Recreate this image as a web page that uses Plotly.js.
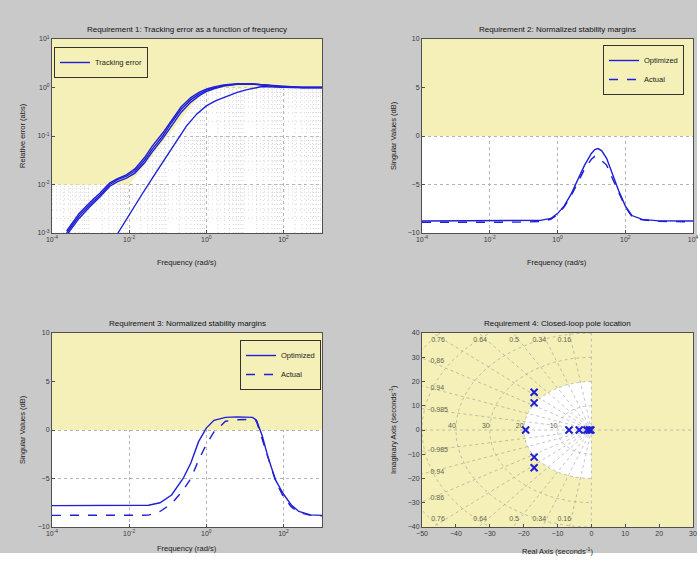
<!DOCTYPE html>
<html>
<head>
<meta charset="utf-8">
<script src="https://cdn.plot.ly/plotly-3.0.1.min.js"></script>
<style>html,body{margin:0;padding:0;background:#fff;}#chart{width:700px;height:561px;}</style>
</head>
<body>
<div id="chart"></div>
<script>
// ---------- Requirement 1: tracking error ----------
const req1FreqA = [2.4e-4, 5e-4, 1e-3, 1.74e-3, 3.16e-3, 5e-3, 8.5e-3, 0.0141, 0.0251, 0.0398, 0.0741, 0.126, 0.224, 0.398, 0.661, 1, 1.58, 2.82, 6.31, 15.8, 39.8, 100, 316, 1000];
const req1ErrA1 = [1e-3, 2.24e-3, 3.98e-3, 6.03e-3, 0.01, 0.0126, 0.0148, 0.019, 0.0316, 0.0537, 0.1, 0.19, 0.355, 0.562, 0.741, 0.871, 0.977, 1.096, 1.175, 1.175, 1.096, 1.023, 1, 1];
const req1ErrA2 = [1.1e-3, 2.5e-3, 4.4e-3, 6.6e-3, 0.0108, 0.0132, 0.0158, 0.021, 0.036, 0.062, 0.115, 0.215, 0.4, 0.62, 0.8, 0.92, 1.03, 1.13, 1.2, 1.19, 1.1, 1.03, 1.0, 1.0];
const req1ErrA3 = [0.9e-3, 2.0e-3, 3.6e-3, 5.5e-3, 0.0092, 0.0115, 0.0135, 0.0172, 0.028, 0.047, 0.088, 0.165, 0.31, 0.5, 0.68, 0.82, 0.94, 1.07, 1.16, 1.18, 1.12, 1.04, 1.0, 1.0];
const req1FreqB = [5.13e-3, 0.01, 0.0224, 0.05, 0.0933, 0.178, 0.302, 0.562, 1, 1.78, 3.31, 6.31, 10.7, 17.8, 28.2, 63, 158, 1000];
const req1ErrB  = [1e-3, 2.4e-3, 6.6e-3, 0.0178, 0.038, 0.083, 0.158, 0.282, 0.417, 0.537, 0.66, 0.794, 0.891, 0.977, 1.047, 1.02, 1, 1];
// maximum-error bound (region above it is shaded)
const req1BoundFreq = [1e-4, 1e-2, 1, 1e3];
const req1BoundErr  = [1e-2, 1e-2, 1, 1];

// ---------- Requirement 2: stability margins ----------
const req2Freq = [1e-4, 1e-3, 1e-2, 0.1, 0.316, 0.631, 1, 1.58, 2.51, 3.98, 6.31, 10, 12.6, 15.8, 20, 28.2, 39.8, 63.1, 100, 158, 316, 1000, 10000];
const req2Optimized = [-8.76, -8.76, -8.76, -8.75, -8.7, -8.5, -8.0, -7.2, -6.0, -4.5, -3.0, -1.8, -1.4, -1.3, -1.5, -2.3, -3.8, -5.6, -7.2, -8.2, -8.6, -8.75, -8.76];
const req2Actual    = [-8.9, -8.9, -8.9, -8.88, -8.8, -8.6, -8.1, -7.3, -6.2, -4.8, -3.4, -2.4, -2.1, -2.2, -2.5, -3.0, -4.2, -5.8, -7.3, -8.3, -8.65, -8.8, -8.85];
const req2Bound = 0;

// ---------- Requirement 3: stability margins ----------
const req3Freq = [1e-4, 1e-3, 0.01, 0.0316, 0.0631, 0.126, 0.251, 0.398, 0.631, 1, 1.58, 3.16, 6.31, 10, 15.8, 20, 28.2, 39.8, 63.1, 100, 158, 251, 501, 1000];
const req3Optimized = [-7.8, -7.8, -7.8, -7.75, -7.5, -6.7, -5.0, -3.4, -1.2, 0.2, 1.0, 1.3, 1.35, 1.35, 1.3, 1.0, -0.6, -2.8, -5.2, -6.6, -7.7, -8.4, -8.75, -8.8];
const req3Actual    = [-8.8, -8.8, -8.8, -8.78, -8.4, -7.6, -6.2, -5.0, -3.1, -1.5, -0.2, 0.9, 1.05, 1.1, 1.1, 0.9, -0.9, -2.9, -5.3, -6.9, -7.9, -8.5, -8.8, -8.85];
const req3Bound = 0;

// ---------- Requirement 4: closed-loop poles ----------
const poleReal = [-19.4, -16.9, -16.9, -16.9, -16.9, -6.6, -3.6, -1.3, -0.6, -0.15];
const poleImag = [0, 15.6, 11.2, -11.2, -15.6, 0, 0, 0, 0, 0];
const req4MaxFreq = 20;
const gridDamping = [0.16, 0.34, 0.5, 0.64, 0.76, 0.86, 0.94, 0.985];
const gridDampingTop = [0.16, 0.34, 0.5, 0.64, 0.76];
const gridDampingSide = [0.86, 0.94, 0.985];
const gridNatFreq = [10, 20, 30, 40, 50, 60];
const gridNatFreqLabels = [10, 20, 30, 40];

const logTicks1 = [1e-4, 1e-2, 1, 100];
const logTickText1 = ['10<sup>-4</sup>', '10<sup>-2</sup>', '10<sup>0</sup>', '10<sup>2</sup>'];
const logTicksY1 = [1e-3, 1e-2, 1e-1, 1, 10];
const logTickTextY1 = ['10<sup>-3</sup>', '10<sup>-2</sup>', '10<sup>-1</sup>', '10<sup>0</sup>', '10<sup>1</sup>'];
const logTicks2 = [1e-4, 1e-2, 1, 100, 1e4];
const logTickText2 = ['10<sup>-4</sup>', '10<sup>-2</sup>', '10<sup>0</sup>', '10<sup>2</sup>', '10<sup>4</sup>'];

// ---------- styling ----------
const BLUE = '#1f1fd6';
const YELLOW = '#f4f0b8';
const FIGGRAY = '#c9c9c9';
const AXCOL = '#505050';
const GRIDCOL = '#b4b4b4';
const FONT = 'Liberation Sans, Arial, sans-serif';

const traces = [];
function fillPoly(xs, ys, xa, ya) {
  traces.push({x: xs, y: ys, xaxis: xa, yaxis: ya, mode: 'lines', fill: 'toself', fillcolor: YELLOW,
    line: {width: 0, color: YELLOW}, hoverinfo: 'skip', showlegend: false});
}

// Req 1 minor log grid (drawn first, hidden under the shaded region)
const mgx = [], mgy = [];
for (let k = -4; k < 3; k++) for (let m = 2; m <= 9; m++) {
  const v = m * Math.pow(10, k);
  mgx.push(v, v, null); mgy.push(1e-3, 10, null);
}
for (let k = -3; k < 1; k++) for (let m = 2; m <= 9; m++) {
  const v = m * Math.pow(10, k);
  mgx.push(1e-4, 1e3, null); mgy.push(v, v, null);
}
traces.push({x: mgx, y: mgy, xaxis: 'x', yaxis: 'y', mode: 'lines',
  line: {color: '#cccccc', width: 0.8, dash: '1px,3px'}, hoverinfo: 'skip', showlegend: false});

// Req 1 shaded region
fillPoly(req1BoundFreq.concat([1e3, 1e-4]), req1BoundErr.concat([10, 10]), 'x', 'y');
[req1ErrA1, req1ErrA2, req1ErrA3].forEach((ys, i) => {
  traces.push({x: req1FreqA, y: ys, xaxis: 'x', yaxis: 'y', mode: 'lines',
    line: {color: BLUE, width: 1.4}, name: 'Tracking error', legend: 'legend',
    showlegend: i === 0});
});
traces.push({x: req1FreqB, y: req1ErrB, xaxis: 'x', yaxis: 'y', mode: 'lines',
  line: {color: BLUE, width: 1.4}, name: 'Tracking error', showlegend: false});

// Req 2
fillPoly([1e-4, 1e4, 1e4, 1e-4], [req2Bound, req2Bound, 10, 10], 'x2', 'y2');
traces.push({x: req2Freq, y: req2Optimized, xaxis: 'x2', yaxis: 'y2', mode: 'lines',
  line: {color: BLUE, width: 1.4}, name: 'Optimized', legend: 'legend2'});
traces.push({x: req2Freq, y: req2Actual, xaxis: 'x2', yaxis: 'y2', mode: 'lines',
  line: {color: BLUE, width: 1.4, dash: 'dash'}, name: 'Actual', legend: 'legend2'});

// Req 3
fillPoly([1e-4, 1e3, 1e3, 1e-4], [req3Bound, req3Bound, 10, 10], 'x3', 'y3');
traces.push({x: req3Freq, y: req3Optimized, xaxis: 'x3', yaxis: 'y3', mode: 'lines',
  line: {color: BLUE, width: 1.4}, name: 'Optimized', legend: 'legend3'});
traces.push({x: req3Freq, y: req3Actual, xaxis: 'x3', yaxis: 'y3', mode: 'lines',
  line: {color: BLUE, width: 1.4, dash: 'dash'}, name: 'Actual', legend: 'legend3'});

// Req 4 shaded region: outside the left half-disc of radius req4MaxFreq
(function () {
  const xs = [0], ys = [req4MaxFreq];
  for (let a = 90; a <= 270; a += 3) {
    xs.push(req4MaxFreq * Math.cos(a * Math.PI / 180));
    ys.push(req4MaxFreq * Math.sin(a * Math.PI / 180));
  }
  xs.push(0, -50, -50, 0); ys.push(-40, -40, 40, 40);
  fillPoly(xs, ys, 'x4', 'y4');
  fillPoly([0, 30, 30, 0], [-40, -40, 40, 40], 'x4', 'y4');
})();

// Req 4 grid (damping rays + natural-frequency arcs)
const gx = [], gy = [];
const L = 120;
gridDamping.forEach(z => {
  const s = Math.sqrt(1 - z * z);
  gx.push(0, -z * L, null, 0, -z * L, null);
  gy.push(0, s * L, null, 0, -s * L, null);
});
gridNatFreq.forEach(w => {
  for (let a = 90; a <= 270; a += 3) {
    gx.push(w * Math.cos(a * Math.PI / 180));
    gy.push(w * Math.sin(a * Math.PI / 180));
  }
  gx.push(null); gy.push(null);
});
gx.push(0, 0, null, -60, 40); gy.push(-60, 60, null, 0, 0);
traces.push({x: gx, y: gy, xaxis: 'x4', yaxis: 'y4', mode: 'lines',
  line: {color: 'rgba(140,140,140,0.5)', width: 1, dash: 'dot'},
  hoverinfo: 'skip', showlegend: false, connectgaps: false});

// grid labels
const lx = [], ly = [], lt = [], lp = [];
const topImag = 37;
gridDampingTop.forEach(z => {
  const s = Math.sqrt(1 - z * z);
  lx.push(-topImag * z / s); ly.push(topImag); lt.push(String(z)); lp.push('middle left');
  lx.push(-topImag * z / s); ly.push(-topImag); lt.push(String(z)); lp.push('middle left');
});
const sideReal = -47.5;
gridDampingSide.forEach(z => {
  const s = Math.sqrt(1 - z * z);
  lx.push(sideReal); ly.push(-sideReal * s / z); lt.push(String(z)); lp.push('middle right');
  lx.push(sideReal); ly.push(sideReal * s / z); lt.push(String(z)); lp.push('middle right');
});
gridNatFreqLabels.forEach(w => {
  lx.push(-w); ly.push(0); lt.push(String(w)); lp.push('top left');
});
traces.push({x: lx, y: ly, text: lt, textposition: lp, xaxis: 'x4', yaxis: 'y4', mode: 'text',
  textfont: {size: 7, color: '#66664f', family: FONT}, hoverinfo: 'skip', showlegend: false});

traces.push({x: poleReal, y: poleImag, xaxis: 'x4', yaxis: 'y4', mode: 'markers',
  marker: {symbol: 'x-thin', size: 7, line: {color: BLUE, width: 2}, color: BLUE},
  showlegend: false, name: 'Poles'});

// ---------- layout ----------
const W = 700, H = 561;
const px = v => v / W;
const py = v => 1 - v / H;

const tickFont = {size: 7, color: '#3a3a3a', family: FONT};
function baseAxis(extra) {
  return Object.assign({
    showline: true, linecolor: AXCOL, linewidth: 1, mirror: true,
    ticks: 'inside', ticklen: 3, tickcolor: AXCOL, tickfont: tickFont,
    zeroline: false, fixedrange: true, automargin: false,
    gridcolor: GRIDCOL, griddash: 'dot', gridwidth: 1
  }, extra);
}

const legendBase = {bgcolor: YELLOW, bordercolor: '#333', borderwidth: 1,
  font: {size: 7.5, color: '#222', family: FONT}, tracegroupgap: 0, itemwidth: 30};

const layout = {
  width: W, height: H, autosize: false,
  margin: {l: 0, r: 0, t: 0, b: 0},
  paper_bgcolor: FIGGRAY, plot_bgcolor: '#ffffff',
  font: {family: FONT, size: 8, color: '#222'},
  xaxis: baseAxis({domain: [px(52), px(322)], anchor: 'y', type: 'log', range: [-4, 3],
    tickvals: logTicks1, ticktext: logTickText1, showgrid: true}),
  yaxis: baseAxis({domain: [py(233), py(39)], anchor: 'x', type: 'log', range: [-3, 1],
    tickvals: logTicksY1, ticktext: logTickTextY1, showgrid: true}),
  xaxis2: baseAxis({domain: [px(422), px(693)], anchor: 'y2', type: 'log', range: [-4, 4],
    tickvals: logTicks2, ticktext: logTickText2, showgrid: true}),
  yaxis2: baseAxis({domain: [py(233), py(39)], anchor: 'x2', range: [-10, 10],
    tickvals: [-10, -5, 0, 5, 10], showgrid: true}),
  xaxis3: baseAxis({domain: [px(52), px(322)], anchor: 'y3', type: 'log', range: [-4, 3],
    tickvals: logTicks1, ticktext: logTickText1, showgrid: true}),
  yaxis3: baseAxis({domain: [py(527), py(333)], anchor: 'x3', range: [-10, 10],
    tickvals: [-10, -5, 0, 5, 10], showgrid: true}),
  xaxis4: baseAxis({domain: [px(422), px(693)], anchor: 'y4', range: [-50, 30],
    tickmode: 'linear', dtick: 10, tick0: 0, showgrid: false}),
  yaxis4: baseAxis({domain: [py(527), py(333)], anchor: 'x4', range: [-40, 40],
    tickmode: 'linear', dtick: 10, tick0: 0, showgrid: false}),
  shapes: [
    {type: 'rect', xref: 'paper', yref: 'paper', x0: px(697), x1: 1, y0: 0, y1: 1, fillcolor: '#fff', line: {width: 0}, layer: 'below'},
    {type: 'rect', xref: 'paper', yref: 'paper', x0: 0, x1: 1, y0: 0, y1: 1 - 553 / H, fillcolor: '#fff', line: {width: 0}, layer: 'below'}
  ],
  annotations: [],
  legend: Object.assign({x: px(54), y: py(47), xanchor: 'left', yanchor: 'top'}, legendBase),
  legend2: Object.assign({x: px(684), y: py(45), xanchor: 'right', yanchor: 'top'}, legendBase),
  legend3: Object.assign({x: px(321), y: py(340), xanchor: 'right', yanchor: 'top'}, legendBase)
};

function ann(text, x, y, opts) {
  layout.annotations.push(Object.assign({text: text, x: px(x), y: py(y), xref: 'paper', yref: 'paper',
    showarrow: false, xanchor: 'center', yanchor: 'middle', font: {size: 7.5, color: '#1a1a1a', family: FONT}}, opts || {}));
}
const titleFont = {size: 8, color: '#111', family: FONT};
ann('Requirement 1: Tracking error as a function of frequency', 187, 29, {font: titleFont});
ann('Requirement 2: Normalized stability margins', 557, 29, {font: titleFont});
ann('Requirement 3: Normalized stability margins', 187, 323, {font: titleFont});
ann('Requirement 4: Closed-loop pole location', 557, 323, {font: titleFont});
ann('Frequency (rad/s)', 187, 262);
ann('Frequency (rad/s)', 557, 262);
ann('Frequency (rad/s)', 187, 548);
ann('Real Axis (seconds<sup>-1</sup>)', 557, 551);
ann('Relative error (abs)', 22, 136, {textangle: -90});
ann('Singular Values (dB)', 393, 136, {textangle: -90});
ann('Singular Values (dB)', 22, 430, {textangle: -90});
ann('Imaginary Axis (seconds<sup>-1</sup>)', 393, 430, {textangle: -90});

Plotly.newPlot('chart', traces, layout, {staticPlot: true, displayModeBar: false});
</script>
</body>
</html>
